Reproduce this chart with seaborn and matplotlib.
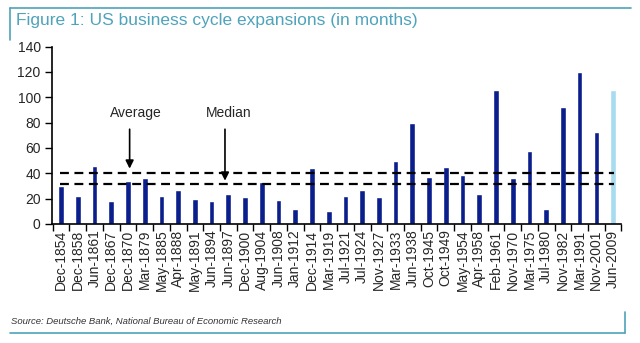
import matplotlib
matplotlib.use("Agg")
import matplotlib.pyplot as plt
from matplotlib.lines import Line2D
import seaborn as sns
import pandas as pd

labels = ["Dec-1854", "Dec-1858", "Jun-1861", "Dec-1867", "Dec-1870", "Mar-1879",
          "May-1885", "Apr-1888", "May-1891", "Jun-1894", "Jun-1897", "Dec-1900",
          "Aug-1904", "Jun-1908", "Jan-1912", "Dec-1914", "Mar-1919", "Jul-1921",
          "Jul-1924", "Nov-1927", "Mar-1933", "Jun-1938", "Oct-1945", "Oct-1949",
          "May-1954", "Apr-1958", "Feb-1961", "Nov-1970", "Mar-1975", "Jul-1980",
          "Nov-1982", "Mar-1991", "Nov-2001", "Jun-2009"]
months = [30, 22, 46, 18, 34, 36, 22, 27, 20, 18, 24, 21, 33, 19, 12, 44, 10, 22,
          27, 21, 50, 80, 37, 45, 39, 24, 106, 36, 58, 12, 92, 120, 73, 106]
average = 40.5
median = 31.5

navy = "#0b1f8c"
light = "#a6dbf0"
teal = "#4fa3ba"

df = pd.DataFrame({"label": labels, "months": months})
colors = [navy] * (len(labels) - 1) + [light]

sns.set_style("white")
plt.rcParams["font.family"] = ["Liberation Sans", "DejaVu Sans"]

fig = plt.figure(figsize=(6.4, 3.43), dpi=100)
ax = fig.add_axes([0.081, 0.347, 0.890, 0.517])

sns.barplot(data=df, x="label", y="months", hue="label", palette=colors,
            width=0.34, legend=False, ax=ax, saturation=1, order=labels)

ax.set_xlim(-0.55, len(labels) - 0.54)
ax.set_ylim(0, 140)
ax.set_yticks(range(0, 141, 20))
ax.set_xlabel("")
ax.set_ylabel("")

# x ticks at category boundaries
ax.set_xticks([i for i in range(len(labels))])
ax.set_xticklabels(labels, rotation=90, fontsize=10)
ax.set_xticks([i - 0.5 for i in range(len(labels) + 1)], minor=True)
ax.tick_params(axis="x", which="major", length=0, pad=4)
ax.tick_params(axis="x", which="minor", length=5, width=1, direction="out", color="black", bottom=True)
ax.tick_params(axis="y", length=5, width=1, direction="out", color="black", labelsize=10, left=True, pad=3)

for s in ["top", "right"]:
    ax.spines[s].set_visible(False)
for s in ["left", "bottom"]:
    ax.spines[s].set_color("black")
    ax.spines[s].set_linewidth(1.2)

ax.hlines([average, median], -0.05, len(labels) - 0.95, colors="black",
          linestyles=(0, (4, 2.5)), linewidth=1.6, zorder=3)

ax.text(4.5, 88, "Average", ha="center", va="center", fontsize=10)
ax.annotate("", xy=(4.1, average + 1), xytext=(4.1, 77),
            arrowprops=dict(arrowstyle="-|>", color="black", lw=1.2, mutation_scale=12))
ax.text(10.0, 88, "Median", ha="center", va="center", fontsize=10)
ax.annotate("", xy=(9.8, median + 0.5), xytext=(9.8, 77),
            arrowprops=dict(arrowstyle="-|>", color="black", lw=1.2, mutation_scale=12))

# frame decorations
W, H = 640, 343
def fx(x): return x / W
def fy(y): return 1 - y / H
fig.add_artist(Line2D([fx(10), fx(631)], [fy(8), fy(8)], color=teal, lw=1.2))
fig.add_artist(Line2D([fx(10), fx(10)], [fy(8), fy(40)], color=teal, lw=1.2))
fig.add_artist(Line2D([fx(10), fx(625)], [fy(333), fy(333)], color=teal, lw=1.2))
fig.add_artist(Line2D([fx(625), fx(625)], [fy(312), fy(333)], color=teal, lw=1.2))

fig.text(fx(16), fy(21), "Figure 1: US business cycle expansions (in months)",
         color=teal, fontsize=12.5, ha="left", va="center")
fig.text(fx(11), fy(321), "Source: Deutsche Bank, National Bureau of Economic Research",
         color="#333333", fontsize=6.8, style="italic", ha="left", va="center")

fig.savefig("out.png", dpi=100)
